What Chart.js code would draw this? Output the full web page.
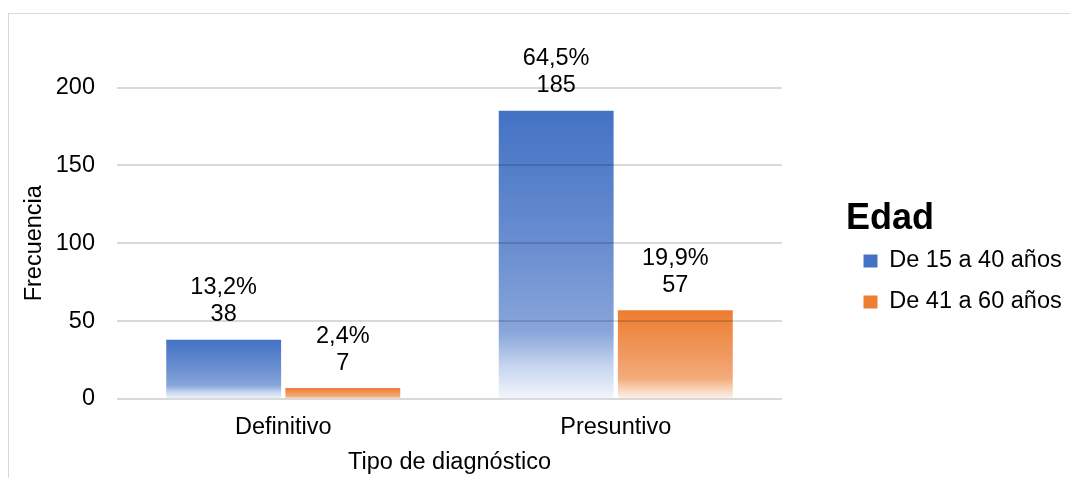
<!DOCTYPE html>
<html><head><meta charset="utf-8">
<style>
html,body{margin:0;padding:0;background:#fff;overflow:hidden;}
#wrap{position:relative;width:1070px;height:478px;overflow:hidden;}
#frame{position:absolute;left:8px;top:13px;width:1200px;height:600px;border-left:1px solid #d9d9d9;border-top:1px solid #d9d9d9;box-sizing:border-box;}
canvas{position:absolute;left:0;top:0;}
</style>
<script src="https://cdn.jsdelivr.net/npm/chart.js@4"></script>
</head><body>
<div id="wrap"><div id="frame"></div><canvas id="c" width="1070" height="478"></canvas></div>
<script>
const categories = ['Definitivo', 'Presuntivo'];
const seriesNames = ['De 15 a 40 años', 'De 41 a 60 años'];
const young = [38, 185];
const older = [7, 57];
const youngPct = ['13,2%', '64,5%'];
const olderPct = ['2,4%', '19,9%'];
const yTicks = [0, 50, 100, 150, 200];

const FONT = 'Liberation Sans, Arial, sans-serif';
const FS = 23.5;
Chart.defaults.font.family = FONT;
Chart.defaults.font.size = FS;
Chart.defaults.color = '#000';

const blueStops = [[0, '#4472C4'], [0.5, '#6C90D1'], [0.77, '#89A6DB'], [0.88, '#C4D3EE'], [1, '#F3F6FC']];
const orangeStops = [[0, '#ED7D31'], [0.5, '#F09960'], [0.77, '#F3AC7C'], [0.88, '#F8D0B3'], [1, '#FDF4EE']];

function grad(stops, solid) {
  return (ctx) => {
    const chart = ctx.chart;
    if (ctx.type !== 'data' || !chart.chartArea || !chart.scales.y) return solid;
    const ys = chart.scales.y;
    const top = ys.getPixelForValue(ctx.raw);
    const base = ys.getPixelForValue(0);
    if (!isFinite(top) || !isFinite(base) || top === base) return solid;
    const g = chart.ctx.createLinearGradient(0, top, 0, base);
    stops.forEach(([o, c]) => g.addColorStop(o, c));
    return g;
  };
}

const labelPlugin = {
  id: 'barLabels',
  afterDraw(chart) {
    const c = chart.ctx;
    c.save();
    c.font = FS + 'px ' + FONT;
    c.fillStyle = '#000';
    c.textAlign = 'center';
    c.textBaseline = 'middle';
    chart.data.datasets.forEach((ds, i) => {
      const meta = chart.getDatasetMeta(i);
      meta.data.forEach((bar, j) => {
        c.fillText(String(ds.data[j]), bar.x, bar.y - 25);
        c.fillText(ds.pct[j], bar.x, bar.y - 52);
      });
    });
    c.restore();
  }
};

new Chart(document.getElementById('c'), {
  type: 'bar',
  data: {
    labels: categories,
    datasets: [
      { label: seriesNames[0], data: young, pct: youngPct, backgroundColor: grad(blueStops, '#4472C4'),
        borderWidth: 0, categoryPercentage: 0.7167, barPercentage: 0.964, xAxisID: 'x', yAxisID: 'y' },
      { label: seriesNames[1], data: older, pct: olderPct, backgroundColor: grad(orangeStops, '#ED7D31'),
        borderWidth: 0, categoryPercentage: 0.7167, barPercentage: 0.964, xAxisID: 'x', yAxisID: 'y' }
    ]
  },
  options: {
    responsive: false,
    animation: false,
    devicePixelRatio: 1,
    layout: { padding: { top: 59, left: 8, right: 4, bottom: 0 } },
    plugins: {
      tooltip: { enabled: false },
      legend: {
        position: 'right',
        align: 'center',
        maxWidth: 220,
        title: { display: true, text: 'Edad', position: 'start', color: '#000',
                 font: { size: 36, weight: 'bold', lineHeight: 1 }, padding: -5 },
        labels: { boxWidth: 14, boxHeight: 13, padding: 17.5, color: '#000', font: { size: FS } }
      }
    },
    scales: {
      x: {
        type: 'category', position: 'bottom',
        grid: { display: false, drawTicks: false },
        border: { display: false },
        ticks: { padding: 14, color: '#000', font: { size: FS } },
        title: { display: true, text: 'Tipo de diagnóstico', color: '#000', font: { size: FS }, padding: { top: 0, bottom: 1.2 } },
        afterFit: (s) => { s.height = 79; }
      },
      y: {
        type: 'linear', position: 'left',
        min: yTicks[0], max: yTicks[yTicks.length - 1],
        afterBuildTicks: (s) => { s.ticks = yTicks.map(v => ({ value: v })); },
        ticks: { padding: 22, color: '#000', font: { size: FS } },
        grid: { color: 'rgba(0,0,0,0.15)', lineWidth: 2, drawTicks: false, z: 1 },
        border: { display: false },
        title: { display: true, text: 'Frecuencia', color: '#000', font: { size: FS }, padding: { top: 12.7, bottom: 0 } },
        afterFit: (s) => { s.width = 109; }
      },
      xTop: {
        type: 'linear', position: 'top', display: true,
        grid: { display: false, drawTicks: false }, border: { display: false }, ticks: { display: false },
        afterFit: (s) => { s.height = 28.5; }
      },
      yRight: {
        type: 'linear', position: 'right', display: true,
        grid: { display: false, drawTicks: false }, border: { display: false }, ticks: { display: false },
        afterFit: (s) => { s.width = 64; }
      }
    }
  },
  plugins: [labelPlugin]
});
</script>
</body></html>
